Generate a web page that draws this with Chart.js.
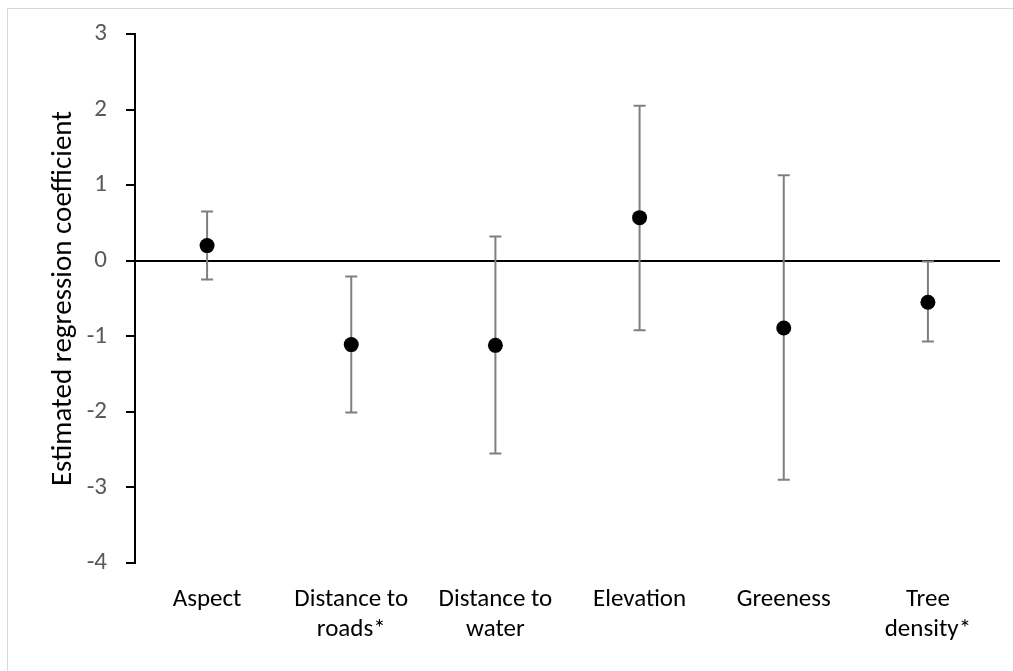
<!DOCTYPE html>
<html>
<head>
<meta charset="utf-8">
<script src="https://cdn.jsdelivr.net/npm/chart.js@4.4.1/dist/chart.umd.min.js"></script>
<style>
    body { margin: 0; background: #fff; overflow: hidden; }
    #frame { position: absolute; left: 7px; top: 8px; width: 2000px; height: 2000px; border: 1px solid #d9d9d9; }
    #coefChart { position: absolute; left: 0; top: 0; }
</style>
</head>
<body>
<div id="frame"></div>
<canvas id="coefChart" width="1013" height="671"></canvas>
<script>
const categories = [
    'Aspect',
    ['Distance to', 'roads*'],
    ['Distance to', 'water'],
    'Elevation',
    'Greeness',
    ['Tree', 'density*']
];
const coefficients = [0.20, -1.11, -1.12, 0.57, -0.89, -0.55];
const lowerBounds = [-0.25, -2.01, -2.55, -0.92, -2.90, -1.07];
const upperBounds = [0.65, -0.21, 0.32, 2.05, 1.13, -0.01];
const yTicks = [-4, -3, -2, -1, 0, 1, 2, 3];

const FONT = "Carlito, Lato, sans-serif";

// whiskers drawn under the points
const errorBars = {
    id: 'errorBars',
    beforeDatasetsDraw(chart) {
        const { ctx, scales: { x, y } } = chart;
        ctx.save();
        ctx.strokeStyle = '#7f7f7f';
        ctx.lineWidth = 2;
        categories.forEach((c, i) => {
            const px = x.getPixelForValue(i);
            const top = y.getPixelForValue(upperBounds[i]);
            const bottom = y.getPixelForValue(lowerBounds[i]);
            ctx.beginPath();
            ctx.moveTo(px, top);
            ctx.lineTo(px, bottom);
            ctx.moveTo(px - 6, top);
            ctx.lineTo(px + 6, top);
            ctx.moveTo(px - 6, bottom);
            ctx.lineTo(px + 6, bottom);
            ctx.stroke();
        });
        ctx.restore();
    }
};

const ctx = document.getElementById('coefChart').getContext('2d');
const coefChart = new Chart(ctx, {
    type: 'line',
    data: {
        labels: categories,
        datasets: [{
            label: 'Estimated regression coefficient',
            data: coefficients,
            showLine: false,
            pointRadius: 7.5,
            pointBackgroundColor: '#000',
            pointBorderColor: '#000',
            pointBorderWidth: 0
        }]
    },
    options: {
        responsive: false,
        animation: false,
        layout: {
            padding: { left: 46, top: 33, right: 13, bottom: 0 }
        },
        plugins: {
            legend: { display: false },
            tooltip: { enabled: false }
        },
        scales: {
            x: {
                offset: true,
                grid: { display: false, drawTicks: false },
                border: { display: false },
                ticks: {
                    color: '#000',
                    padding: 22,
                    maxRotation: 0,
                    autoSkip: false,
                    font: { family: FONT, size: 25, lineHeight: 1.2 }
                },
                afterFit: (scale) => { scale.height = 108; }
            },
            y: {
                min: -4,
                max: 3,
                afterBuildTicks: (scale) => {
                    scale.ticks = yTicks.map(v => ({ value: v }));
                },
                grid: {
                    color: (c) => c.tick && c.tick.value === 0 ? '#000' : 'rgba(0,0,0,0)',
                    lineWidth: 2,
                    tickColor: '#000',
                    tickLength: 9,
                    tickWidth: 2
                },
                border: { display: true, color: '#000', width: 2 },
                ticks: {
                    color: '#595959',
                    padding: 19,
                    font: { family: FONT, size: 25 }
                },
                title: {
                    display: true,
                    text: 'Estimated regression coefficient',
                    color: '#000',
                    padding: 0,
                    font: { family: FONT, size: 29 }
                },
                afterFit: (scale) => { scale.width = 89; }
            }
        }
    },
    plugins: [errorBars]
});
</script>
</body>
</html>
